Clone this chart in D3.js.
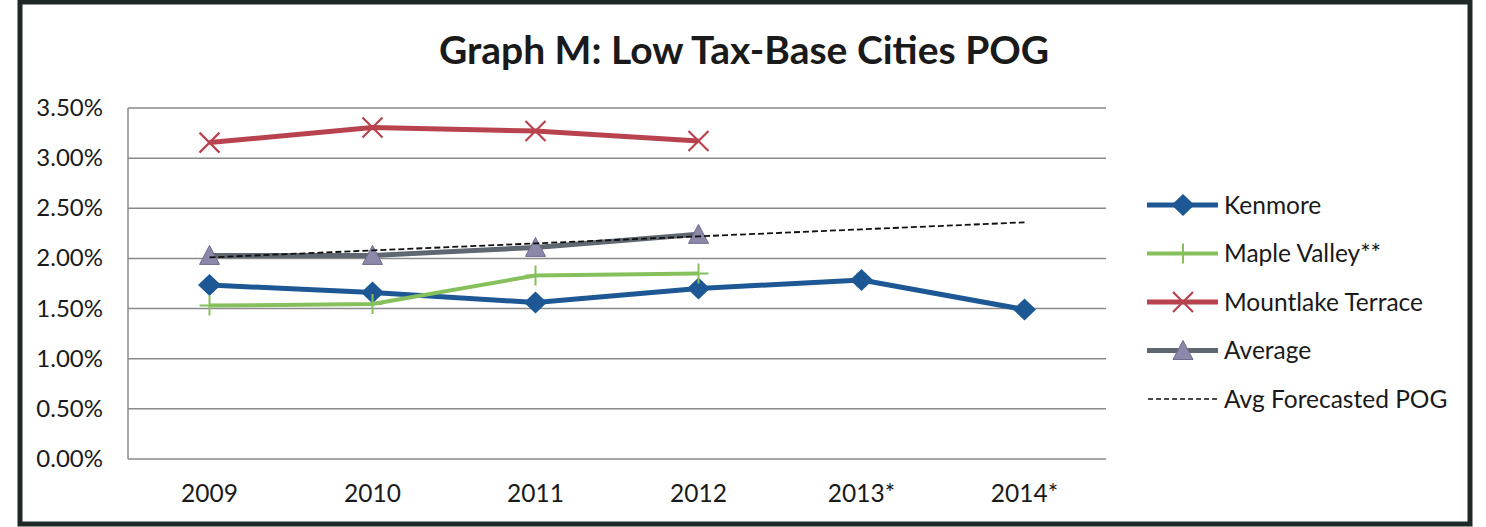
<!DOCTYPE html>
<html>
<head>
<meta charset="utf-8">
<script src="https://cdn.jsdelivr.net/npm/d3@7"></script>
<style>
  body { margin: 0; background: #fff; }
  text { font-family: Lato, "Open Sans", sans-serif; fill: #1a1a1a; }
</style>
</head>
<body>
<script>
// Chart data
var years = ["2009", "2010", "2011", "2012", "2013*", "2014*"];
var kenmore = [1.735, 1.66, 1.56, 1.70, 1.785, 1.49];
var mapleValley = [1.53, 1.545, 1.83, 1.85, null, null];
var mountlake = [3.155, 3.305, 3.27, 3.17, null, null];
var average = [2.03, 2.03, 2.11, 2.24, null, null];
var forecast = [2.01, 2.08, 2.15, 2.22, 2.29, 2.36];
var yTicks = [0, 0.5, 1, 1.5, 2, 2.5, 3, 3.5];

var seriesNames = ["Kenmore", "Maple Valley**", "Mountlake Terrace", "Average", "Avg Forecasted POG"];

var width = 1486;
var height = 527;

var svg = d3.select("body").append("svg")
    .attr("width", width)
    .attr("height", height);

// scanned frame round the chart
svg.append("rect")
    .attr("x", 20).attr("y", 2)
    .attr("width", 1450).attr("height", 522)
    .style("fill", "none")
    .style("stroke", "#1e2826")
    .style("stroke-width", 5);

// title
svg.append("text")
    .attr("x", 744).attr("y", 64)
    .attr("text-anchor", "middle")
    .style("font-size", "39px")
    .style("font-weight", "bold")
    .text("Graph M: Low Tax-Base Cities POG");

// scales
var x = d3.scalePoint()
    .domain(years)
    .range([128, 1106])
    .padding(0.5);

var y = d3.scaleLinear()
    .domain([0, 3.5])
    .range([459, 108]);

// gridlines + y labels
svg.append("g")
    .selectAll("line")
    .data(yTicks)
    .enter()
    .append("line")
    .attr("x1", 128).attr("x2", 1106)
    .attr("y1", function(d) { return y(d); })
    .attr("y2", function(d) { return y(d); })
    .style("stroke", "#8a8a8a")
    .style("stroke-width", 1.5);

svg.append("line")
    .attr("x1", 128).attr("x2", 128)
    .attr("y1", y(3.5)).attr("y2", y(0))
    .style("stroke", "#8a8a8a")
    .style("stroke-width", 1.5);

svg.append("g")
    .selectAll("text")
    .data(yTicks)
    .enter()
    .append("text")
    .attr("x", 103)
    .attr("y", function(d) { return y(d) + 8; })
    .attr("text-anchor", "end")
    .style("font-size", "24px")
    .text(function(d) { return d3.format(".2f")(d) + "%"; });

// x labels
svg.append("g")
    .selectAll("text")
    .data(years)
    .enter()
    .append("text")
    .attr("x", function(d) { return x(d); })
    .attr("y", 502)
    .attr("text-anchor", "middle")
    .style("font-size", "24.5px")
    .text(function(d) { return d; });

// line generator, skips the missing years
var line = d3.line()
    .defined(function(d) { return d.v != null; })
    .x(function(d) { return x(d.year); })
    .y(function(d) { return y(d.v); });

function pts(values) {
  return values.map(function(v, i) { return { year: years[i], v: v }; });
}

// marker drawing helpers
function diamond(g, cx, cy, color) {
  g.append("path")
    .attr("d", "M" + cx + "," + (cy - 11) + "L" + (cx + 11.5) + "," + cy + "L" + cx + "," + (cy + 11) + "L" + (cx - 11.5) + "," + cy + "Z")
    .style("fill", color);
}
function plus(g, cx, cy, color) {
  g.append("path")
    .attr("d", "M" + (cx - 10) + "," + cy + "H" + (cx + 10) + "M" + cx + "," + (cy - 10) + "V" + (cy + 10))
    .style("stroke", color)
    .style("stroke-width", 2);
}
function cross(g, cx, cy, color) {
  g.append("path")
    .attr("d", "M" + (cx - 10) + "," + (cy - 10) + "L" + (cx + 10) + "," + (cy + 10) + "M" + (cx - 10) + "," + (cy + 10) + "L" + (cx + 10) + "," + (cy - 10))
    .style("stroke", color)
    .style("stroke-width", 2.2);
}
function triangle(g, cx, cy, color) {
  g.append("path")
    .attr("d", "M" + cx + "," + (cy - 10) + "L" + (cx + 10) + "," + (cy + 9) + "L" + (cx - 10) + "," + (cy + 9) + "Z")
    .style("fill", "#8b88aa")
    .style("stroke", "#6f6c8e")
    .style("stroke-width", 1);
}

var series = [
  { name: seriesNames[0], values: kenmore, color: "#1d5894", w: 5, marker: diamond },
  { name: seriesNames[1], values: mapleValley, color: "#86c05c", w: 4, marker: plus },
  { name: seriesNames[2], values: mountlake, color: "#b8434f", w: 5, marker: cross },
  { name: seriesNames[3], values: average, color: "#5f6770", w: 5, marker: triangle }
];

series.forEach(function(s) {
  var g = svg.append("g");
  g.append("path")
    .attr("d", line(pts(s.values)))
    .style("fill", "none")
    .style("stroke", s.color)
    .style("stroke-width", s.w)
    .style("stroke-linejoin", "round");
  pts(s.values).forEach(function(d) {
    if (d.v != null) s.marker(g, x(d.year), y(d.v), s.color);
  });
});

// forecast dashed line on top
svg.append("path")
    .attr("d", line(pts(forecast)))
    .style("fill", "none")
    .style("stroke", "#111")
    .style("stroke-width", 1.8)
    .style("stroke-dasharray", "6,3");

// Legend
var legend = svg.append("g")
    .selectAll("g")
    .data(seriesNames)
    .enter()
    .append("g")
    .attr("transform", function(d, i) { return "translate(0," + (205 + i * 48.5) + ")"; });

legend.each(function(d, i) {
  var g = d3.select(this);
  if (i < 4) {
    var s = series[i];
    g.append("line")
      .attr("x1", 1147).attr("x2", 1218)
      .attr("y1", 0).attr("y2", 0)
      .style("stroke", s.color)
      .style("stroke-width", s.w);
    s.marker(g, 1183, 0, s.color);
  } else {
    g.append("line")
      .attr("x1", 1148).attr("x2", 1217)
      .attr("y1", 0).attr("y2", 0)
      .style("stroke", "#111")
      .style("stroke-width", 1.5)
      .style("stroke-dasharray", "5,3");
  }
  g.append("text")
    .attr("x", 1224)
    .attr("y", 8.5)
    .style("font-size", "24.5px")
    .text(d);
});
</script>
</body>
</html>
